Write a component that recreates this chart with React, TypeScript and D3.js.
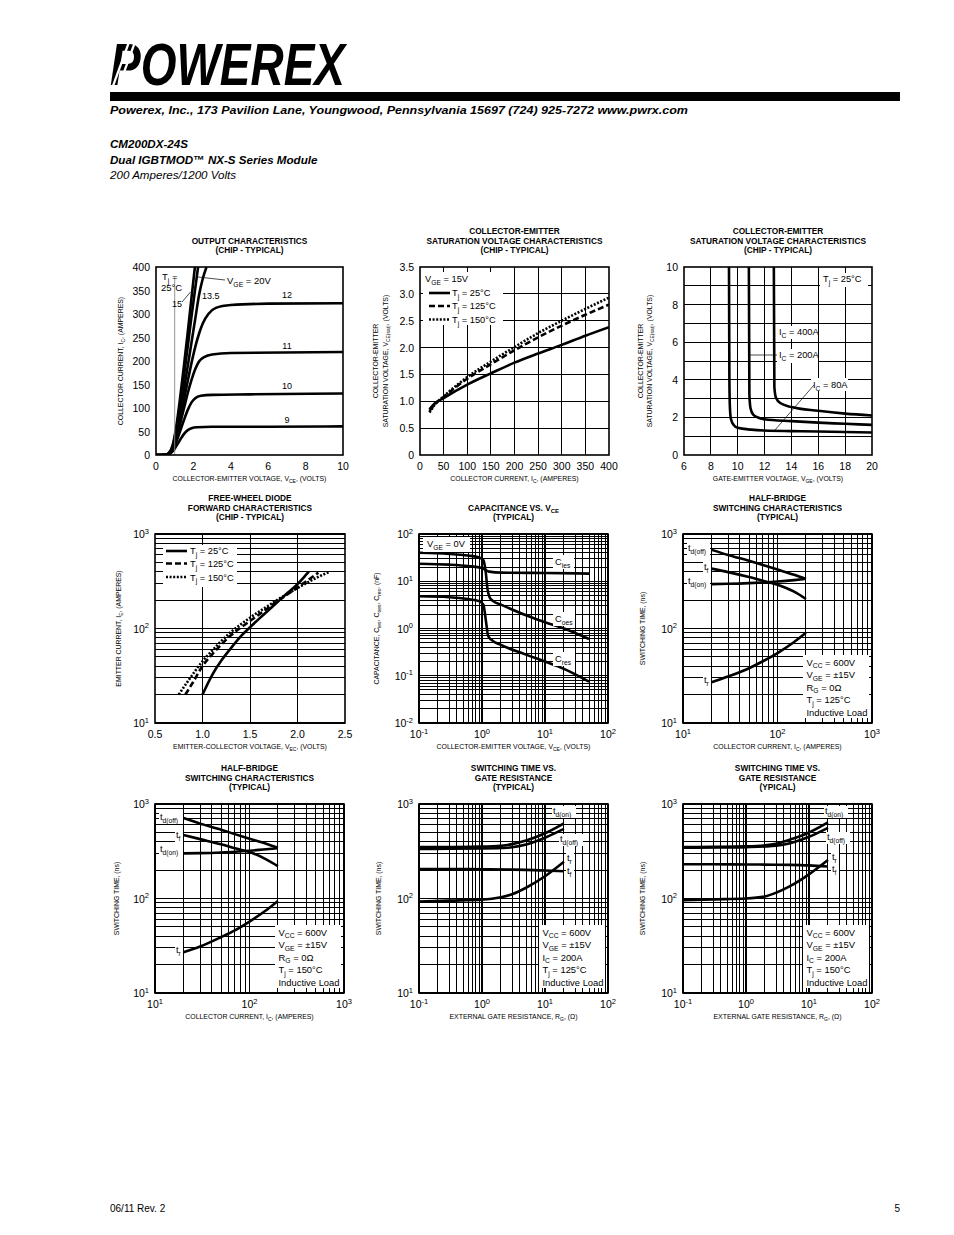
import React from "react";
import * as d3 from "d3";

type Pt = [number, number];

// ---------- Chart 1: Output characteristics (VCE [V], IC [A]) ----------
const outVge9: Pt[] = [[0,0],[0.5,0.5],[0.7,2],[0.9,8],[1.1,20],[1.3,33],[1.5,45],[1.7,53],[1.9,57],[2.2,59],[3,60],[6,60],[10,61]];
const outVge10: Pt[] = [[0,0],[0.5,0.5],[0.7,3],[0.9,12],[1.1,30],[1.3,52],[1.5,75],[1.7,96],[1.9,112],[2.1,121],[2.4,126],[3,128],[5,129],[10,131]];
const outVge11: Pt[] = [[0,0],[0.5,0.5],[0.7,3],[0.9,14],[1.1,38],[1.3,68],[1.5,100],[1.7,132],[1.9,160],[2.1,183],[2.3,199],[2.6,209],[3,214],[4,217],[10,219]];
const outVge12: Pt[] = [[0,0],[0.5,0.5],[0.7,3],[0.9,15],[1.1,42],[1.3,78],[1.5,118],[1.7,158],[1.9,196],[2.1,230],[2.3,258],[2.5,280],[2.8,300],[3.2,313],[4,319],[6,322],[10,323]];
const outVge135: Pt[] = [[0,0],[0.5,0.5],[0.7,4],[0.9,18],[1.1,48],[1.3,92],[1.5,140],[1.7,190],[1.9,240],[2.1,290],[2.3,340],[2.5,375],[2.7,400]];
const outVge15: Pt[] = [[0,0],[0.5,0.5],[0.7,4],[0.9,20],[1.1,58],[1.3,110],[1.5,170],[1.7,232],[1.9,295],[2.1,355],[2.25,400]];
const outVge20: Pt[] = [[0,0],[0.5,0.5],[0.7,5],[0.9,22],[1.1,65],[1.3,125],[1.5,192],[1.7,262],[1.9,335],[2.08,400]];
const outVceTicks = [0, 2, 4, 6, 8, 10];
const outIcTicks = [0, 50, 100, 150, 200, 250, 300, 350, 400];

// ---------- Chart 2: VCE(sat) vs IC ----------
const satTj25: Pt[] = [[20,0.85],[30,0.95],[50,1.06],[100,1.31],[150,1.52],[200,1.72],[250,1.89],[300,2.05],[350,2.22],[400,2.38]];
const satTj125: Pt[] = [[20,0.82],[30,0.93],[50,1.08],[100,1.42],[150,1.69],[200,1.95],[250,2.19],[300,2.41],[350,2.61],[400,2.8]];
const satTj150: Pt[] = [[20,0.79],[30,0.92],[50,1.09],[100,1.45],[150,1.74],[200,2.01],[250,2.27],[300,2.5],[350,2.72],[400,2.93]];
const satIcTicks = [0, 50, 100, 150, 200, 250, 300, 350, 400];
const satVTicks = ["0", "0.5", "1.0", "1.5", "2.0", "2.5", "3.0", "3.5"];

// ---------- Chart 3: VCE(sat) vs VGE ----------
const gateIc80: Pt[] = [[9.35,10],[9.38,4],[9.42,2.5],[9.5,1.9],[9.7,1.6],[10,1.45],[11,1.35],[12,1.3],[14,1.27],[16,1.25],[20,1.2]];
const gateIc200: Pt[] = [[10.83,10],[10.87,3.2],[10.95,2.5],[11.15,2.15],[11.6,1.97],[12,1.9],[14,1.8],[16,1.72],[18,1.66],[20,1.6]];
const gateIc400: Pt[] = [[12.69,10],[12.73,3.6],[12.85,3.05],[13.2,2.75],[14,2.55],[16,2.35],[18,2.2],[20,2.1]];
const gateVgeTicks = [6, 8, 10, 12, 14, 16, 18, 20];
const gateVceTicks = [0, 2, 4, 6, 8, 10];

// ---------- Chart 4: Free-wheel diode ----------
const diodeTj25: Pt[] = [[1.0,20],[1.1,32],[1.2,46],[1.3,62],[1.4,82],[1.5,103],[1.6,128],[1.7,158],[1.8,195],[1.9,240],[2.0,295],[2.1,380],[2.12,400]];
const diodeTj125: Pt[] = [[0.82,20],[0.9,27],[1.0,40],[1.1,53],[1.2,68],[1.3,85],[1.4,102],[1.5,120],[1.6,142],[1.7,168],[1.8,198],[1.9,232],[2.0,272],[2.1,320],[2.22,390]];
const diodeTj150: Pt[] = [[0.75,20],[0.85,28],[1.0,45],[1.1,58],[1.2,74],[1.3,92],[1.4,110],[1.5,130],[1.6,152],[1.7,176],[1.8,205],[1.9,235],[2.0,268],[2.1,305],[2.2,345],[2.33,395]];
const diodeVTicks = ["0.5", "1.0", "1.5", "2.0", "2.5"];
const diodeIExps = [1, 2, 3];

// ---------- Chart 5: Capacitance ----------
const capCies: Pt[] = [[0.1,23.5],[0.3,22.5],[0.6,21],[1.0,19],[1.3,16],[2,15.2],[10,15],[50,14.5]];
const capCoes: Pt[] = [[0.1,40],[0.3,38],[0.6,35],[0.9,32],[1.05,28],[1.15,15],[1.22,7],[1.32,4.6],[1.5,3.8],[2,3.2],[5,1.9],[10,1.35],[20,1.0],[50,0.6]];
const capCres: Pt[] = [[0.1,4.8],[0.3,4.6],[0.6,4.2],[0.9,3.8],[1.05,3.2],[1.15,1.5],[1.25,0.7],[1.4,0.58],[2,0.45],[5,0.28],[10,0.2],[20,0.14],[50,0.075]];
const capVExps = [-1, 0, 1, 2];
const capCExps = [-2, -1, 0, 1, 2];

// ---------- Chart 6: Switching vs IC, Tj=125 ----------
const sw125Tdoff: Pt[] = [[20,680],[30,600],[50,520],[70,470],[100,420],[150,370],[200,335]];
const sw125Tf: Pt[] = [[20,430],[30,395],[50,350],[70,320],[100,290],[150,245],[200,205]];
const sw125Tdon: Pt[] = [[20,295],[30,297],[50,302],[70,307],[100,314],[150,325],[200,335]];
const sw125Tr: Pt[] = [[20,27],[30,31],[50,38],[70,45],[100,55],[150,72],[200,90]];

// ---------- Chart 7: Switching vs IC, Tj=150 ----------
const sw150Tdoff: Pt[] = [[20,710],[30,620],[50,535],[70,480],[100,430],[150,380],[200,345]];
const sw150Tf: Pt[] = [[20,470],[30,425],[50,375],[70,340],[100,310],[150,260],[200,220]];
const sw150Tdon: Pt[] = [[20,300],[30,302],[50,307],[70,312],[100,320],[150,332],[200,340]];
const sw150Tr: Pt[] = [[20,27],[30,31],[50,39],[70,46],[100,57],[150,75],[200,94]];
const swIcExps = [1, 2, 3];
const swTExps = [1, 2, 3];

// ---------- Chart 8: Switching vs RG, Tj=125 ----------
const rg125Tdon: Pt[] = [[0.1,350],[0.3,351],[1,354],[2,362],[3,376],[5,410],[10,490],[20,625]];
const rg125Tdoff: Pt[] = [[0.1,335],[0.3,336],[1,338],[2,342],[3,348],[5,372],[10,440],[20,545]];
const rg125Tr: Pt[] = [[0.1,93],[0.3,95],[1,97],[2,103],[3,111],[5,130],[10,172],[20,245]];
const rg125Tf: Pt[] = [[0.1,205],[0.3,205],[1,204],[3,202],[5,201],[10,198],[20,194]];

// ---------- Chart 9: Switching vs RG, Tj=150 ----------
const rg150Tdon: Pt[] = [[0.1,350],[0.3,352],[1,356],[2,365],[3,380],[5,420],[10,500],[20,640]];
const rg150Tdoff: Pt[] = [[0.1,345],[0.3,346],[1,350],[2,355],[3,362],[5,385],[10,450],[20,560]];
const rg150Tr: Pt[] = [[0.1,96],[0.3,98],[1,100],[2,105],[3,115],[5,135],[10,180],[20,255]];
const rg150Tf: Pt[] = [[0.1,230],[0.3,230],[1,229],[3,228],[5,227],[10,224],[20,218]];
const swRgExps = [-1, 0, 1, 2];

const FONT = "'Liberation Sans', Arial, Helvetica, sans-serif";

interface Tick { v: number; t: string; sup?: string }
interface Series { data: Pt[]; dash?: string; w?: number }
type Sc = (v: number) => number;
interface PanelCfg {
  x0: number; y0: number; w: number; h: number;
  xLog?: boolean; yLog?: boolean;
  xDom: [number, number]; yDom: [number, number];
  xGrid: number[]; yGrid: number[];
  xTicks: Tick[]; yTicks: Tick[];
  series: Series[];
  title: string[];
  xTitle: string;
  yTitle: string[];
  yTitleOff: number[];
  extra?: (sx: Sc, sy: Sc) => React.ReactNode;
}

function rich(s: string, fs: number): React.ReactNode[] {
  const out: React.ReactNode[] = [];
  const re = /([_^])\{([^}]*)\}/g;
  let last = 0; let m: RegExpExecArray | null; let shift = 0; let k = 0;
  while ((m = re.exec(s))) {
    if (m.index > last) { out.push(<tspan key={k++} dy={-shift}>{s.slice(last, m.index)}</tspan>); shift = 0; }
    const d = m[1] === "_" ? fs * 0.3 : -fs * 0.42;
    out.push(<tspan key={k++} dy={d - shift} fontSize={fs * 0.72}>{m[2]}</tspan>);
    shift = d; last = re.lastIndex;
  }
  if (last < s.length) out.push(<tspan key={k++} dy={-shift}>{s.slice(last)}</tspan>);
  return out;
}

function T({ x, y, s, fs = 9, anchor = "start", weight = "normal" }: { x: number; y: number; s: string; fs?: number; anchor?: string; weight?: string }) {
  return <text x={x} y={y} fontSize={fs} textAnchor={anchor as any} fontWeight={weight}>{rich(s, fs)}</text>;
}

function WB({ x, y, w, h }: { x: number; y: number; w: number; h: number }) {
  return <rect x={x} y={y} width={w} height={h} fill="#fff" />;
}

function logGrid(lo: number, hi: number): number[] {
  const out: number[] = [];
  for (let e = lo; e < hi; e++) for (let m = 1; m < 10; m++) out.push(m * Math.pow(10, e));
  out.push(Math.pow(10, hi));
  return out;
}
const expTicks = (exps: number[]): Tick[] => exps.map(e => ({ v: Math.pow(10, e), t: "10", sup: String(e) }));
const numTicks = (vals: number[]): Tick[] => vals.map(v => ({ v, t: String(v) }));
const strTicks = (vals: string[]): Tick[] => vals.map(v => ({ v: +v, t: v }));

function Panel({ cfg, id }: { cfg: PanelCfg; id: string }) {
  const sx: any = (cfg.xLog ? d3.scaleLog() : d3.scaleLinear()).domain(cfg.xDom).range([cfg.x0, cfg.x0 + cfg.w]);
  const sy: any = (cfg.yLog ? d3.scaleLog() : d3.scaleLinear()).domain(cfg.yDom).range([cfg.y0 + cfg.h, cfg.y0]);
  const line = d3.line<Pt>().x(d => sx(d[0])).y(d => sy(d[1])).curve(d3.curveMonotoneX);
  const major = (v: number, log?: boolean) => log && Math.abs(Math.log10(v) - Math.round(Math.log10(v))) < 1e-6;
  const cx = cfg.x0 + cfg.w / 2, cy = cfg.y0 + cfg.h / 2;
  const bottom = cfg.y0 + cfg.h;
  const tickText = (tk: Tick, x: number, y: number, anchor: string, key: number) => (
    <text key={key} x={x} y={y} textAnchor={anchor as any} fontSize={10.5}>
      {tk.t}{tk.sup !== undefined && <tspan dy={-4.5} fontSize={7.5}>{tk.sup}</tspan>}
    </text>
  );
  return (
    <g>
      <defs>
        <clipPath id={id}><rect x={cfg.x0} y={cfg.y0} width={cfg.w} height={cfg.h} /></clipPath>
      </defs>
      {cfg.title.map((t, i) => (
        <T key={i} x={cx} y={cfg.y0 - 14 - (cfg.title.length - 1 - i) * 9.5} s={t} fs={8.3} anchor="middle" weight="bold" />
      ))}
      <g stroke="#000" shapeRendering="crispEdges">
        {cfg.xGrid.map((v, i) => <line key={"gx" + i} x1={sx(v)} x2={sx(v)} y1={cfg.y0} y2={bottom} strokeWidth={major(v, cfg.xLog) ? 1.4 : 1} />)}
        {cfg.yGrid.map((v, i) => <line key={"gy" + i} y1={sy(v)} y2={sy(v)} x1={cfg.x0} x2={cfg.x0 + cfg.w} strokeWidth={major(v, cfg.yLog) ? 1.4 : 1} />)}
      </g>
      <g clipPath={`url(#${id})`} fill="none" stroke="#000" strokeLinejoin="round">
        {cfg.series.map((s, i) => (
          <path key={i} d={line(s.data) || ""} strokeWidth={s.w ?? 2.6} strokeDasharray={s.dash} />
        ))}
      </g>
      {cfg.extra && cfg.extra(sx, sy)}
      <rect x={cfg.x0} y={cfg.y0} width={cfg.w} height={cfg.h} fill="none" stroke="#000" strokeWidth={1.6} />
      {cfg.xTicks.map((tk, i) => tickText(tk, sx(tk.v), bottom + 15, "middle", i))}
      {cfg.yTicks.map((tk, i) => tickText(tk, cfg.x0 - 6, sy(tk.v) + 4, "end", i))}
      <T x={cx} y={bottom + 26} s={cfg.xTitle} fs={6.9} anchor="middle" />
      {cfg.yTitle.map((t, i) => (
        <g key={i} transform={`translate(${cfg.x0 - cfg.yTitleOff[i]},${cy}) rotate(-90)`}>
          <T x={0} y={0} s={t} fs={6.9} anchor="middle" />
        </g>
      ))}
    </g>
  );
}

const DASH = "6,3";
const DOT = "2,1.6";

export default function App() {
  const C = [156, 420, 684];
  const R = [267, 534, 804];
  const W = 188, H = 189;
  const swBox = (x: number, y: number, lines: string[]) => (
    <g>
      <WB x={x} y={y} w={66} h={63} />
      {lines.map((l, i) => <T key={i} x={x + 3.5} y={y + 10.5 + i * 12.5} s={l} fs={9.4} />)}
    </g>
  );

  const panels: PanelCfg[] = [
    {
      x0: C[0], y0: R[0], w: W - 1, h: H - 1, xDom: [0, 10], yDom: [0, 400],
      xGrid: [], yGrid: [], xTicks: numTicks(outVceTicks), yTicks: numTicks(outIcTicks),
      series: [outVge9, outVge10, outVge11, outVge12, outVge135, outVge15, outVge20].map(d => ({ data: d })),
      title: ["OUTPUT CHARACTERISTICS", "(CHIP - TYPICAL)"],
      xTitle: "COLLECTOR-EMITTER VOLTAGE, V_{CE}, (VOLTS)",
      yTitle: ["COLLECTOR CURRENT, I_{C}, (AMPERES)"], yTitleOff: [33],
      extra: (sx, sy) => (
        <g>
          <line x1={sx(1)} x2={sx(1)} y1={sy(378)} y2={sy(0)} stroke="#888" strokeWidth={0.9} />
          <T x={162} y={280} s="T_{j} =" fs={9.5} />
          <T x={161} y={291} s="25°C" fs={9.5} />
          <line x1={225} y1={280} x2={198} y2={277} stroke="#000" strokeWidth={0.7} />
          <T x={227} y={284} s="V_{GE} = 20V" fs={9.5} />
          <line x1={182} y1={302} x2={190.5} y2={292} stroke="#000" strokeWidth={0.7} />
          <T x={172} y={307} s="15" fs={9} />
          <T x={202} y={299} s="13.5" fs={9} />
          <T x={287} y={298} s="12" fs={9} anchor="middle" />
          <T x={287} y={349} s="11" fs={9} anchor="middle" />
          <T x={287} y={389} s="10" fs={9} anchor="middle" />
          <T x={287} y={423} s="9" fs={9} anchor="middle" />
        </g>
      ),
    },
    {
      x0: C[1], y0: R[0], w: W + 1, h: H - 1, xDom: [0, 400], yDom: [0, 3.5],
      xGrid: d3.range(50, 400, 50), yGrid: d3.range(0.5, 3.5, 0.5),
      xTicks: numTicks(satIcTicks), yTicks: strTicks(satVTicks),
      series: [{ data: satTj25 }, { data: satTj125, dash: DASH }, { data: satTj150, dash: DOT }],
      title: ["COLLECTOR-EMITTER", "SATURATION VOLTAGE CHARACTERISTICS", "(CHIP - TYPICAL)"],
      xTitle: "COLLECTOR CURRENT, I_{C}, (AMPERES)",
      yTitle: ["COLLECTOR-EMITTER", "SATURATION VOLTAGE, V_{CE(sat)}, (VOLTS)"], yTitleOff: [42, 32],
      extra: () => (
        <g>
          <WB x={423} y={272} w={80} h={53} />
          <T x={425} y={282} s="V_{GE} = 15V" fs={9.3} />
          <line x1={429} x2={450} y1={293} y2={293} stroke="#000" strokeWidth={2.6} />
          <T x={452} y={296} s="T_{j} = 25°C" fs={9.3} />
          <line x1={429} x2={450} y1={306} y2={306} stroke="#000" strokeWidth={2.6} strokeDasharray={DASH} />
          <T x={452} y={309} s="T_{j} = 125°C" fs={9.3} />
          <line x1={429} x2={450} y1={319.5} y2={319.5} stroke="#000" strokeWidth={2.6} strokeDasharray={DOT} />
          <T x={452} y={323} s="T_{j} = 150°C" fs={9.3} />
        </g>
      ),
    },
    {
      x0: C[2], y0: R[0], w: W, h: H - 1, xDom: [6, 20], yDom: [0, 10],
      xGrid: d3.range(8, 20, 2), yGrid: d3.range(1, 10, 1),
      xTicks: numTicks(gateVgeTicks), yTicks: numTicks(gateVceTicks),
      series: [{ data: gateIc80 }, { data: gateIc200 }, { data: gateIc400 }],
      title: ["COLLECTOR-EMITTER", "SATURATION VOLTAGE CHARACTERISTICS", "(CHIP - TYPICAL)"],
      xTitle: "GATE-EMITTER VOLTAGE, V_{GE}, (VOLTS)",
      yTitle: ["COLLECTOR-EMITTER", "SATURATION VOLTAGE, V_{CE(sat)}, (VOLTS)"], yTitleOff: [41, 32],
      extra: () => (
        <g>
          <WB x={820} y={273} w={48} h={14} />
          <T x={823} y={282} s="T_{j} = 25°C" fs={9.3} />
          <WB x={777} y={326} w={40} h={13} />
          <T x={779} y={335} s="I_{C} = 400A" fs={9.3} />
          <WB x={777} y={349} w={41} h={14} />
          <line x1={750} x2={777} y1={355} y2={355} stroke="#000" strokeWidth={0.7} />
          <T x={779} y={358} s="I_{C} = 200A" fs={9.3} />
          <WB x={811} y={378} w={37} h={13} />
          <line x1={814} y1={385} x2={775} y2={430} stroke="#000" strokeWidth={0.7} />
          <T x={813} y={388} s="I_{C} = 80A" fs={9.3} />
        </g>
      ),
    },
    {
      x0: C[0] - 1, y0: R[1], w: W + 2, h: H, xDom: [0.5, 2.5], yDom: [10, 1000], yLog: true,
      xGrid: [1.0, 1.5, 2.0], yGrid: logGrid(1, 3),
      xTicks: strTicks(diodeVTicks), yTicks: expTicks(diodeIExps),
      series: [{ data: diodeTj25 }, { data: diodeTj125, dash: DASH }, { data: diodeTj150, dash: DOT }],
      title: ["FREE-WHEEL DIODE", "FORWARD CHARACTERISTICS", "(CHIP - TYPICAL)"],
      xTitle: "EMITTER-COLLECTOR VOLTAGE, V_{EC}, (VOLTS)",
      yTitle: ["EMITTER CURRENT, I_{E}, (AMPERES)"], yTitleOff: [34],
      extra: () => (
        <g>
          <WB x={163} y={545} w={74} h={42} />
          <line x1={166} x2={187} y1={551} y2={551} stroke="#000" strokeWidth={2.6} />
          <T x={190} y={554} s="T_{j} = 25°C" fs={9.3} />
          <line x1={166} x2={187} y1={563.5} y2={563.5} stroke="#000" strokeWidth={2.6} strokeDasharray={DASH} />
          <T x={190} y={567} s="T_{j} = 125°C" fs={9.3} />
          <line x1={166} x2={187} y1={577} y2={577} stroke="#000" strokeWidth={2.6} strokeDasharray={DOT} />
          <T x={190} y={580.5} s="T_{j} = 150°C" fs={9.3} />
        </g>
      ),
    },
    {
      x0: C[1] - 1, y0: R[1], w: W + 1, h: H, xDom: [0.1, 100], yDom: [0.01, 100], xLog: true, yLog: true,
      xGrid: logGrid(-1, 2), yGrid: logGrid(-2, 2),
      xTicks: expTicks(capVExps), yTicks: expTicks(capCExps),
      series: [{ data: capCies }, { data: capCoes }, { data: capCres }],
      title: ["CAPACITANCE VS. V_{CE}", "(TYPICAL)"],
      xTitle: "COLLECTOR-EMITTER VOLTAGE, V_{CE}, (VOLTS)",
      yTitle: ["CAPACITANCE, C_{ies}, C_{oes}, C_{res}, (nF)"], yTitleOff: [40],
      extra: () => (
        <g>
          <WB x={423} y={537} w={47} h={15} />
          <T x={427} y={547} s="V_{GE} = 0V" fs={9.3} />
          <WB x={553} y={555} w={21} h={14} />
          <T x={555} y={565} s="C_{ies}" fs={9.3} />
          <WB x={553} y={612} w={22} h={14} />
          <T x={555} y={622} s="C_{oes}" fs={9.3} />
          <WB x={553} y={652} w={22} h={14} />
          <T x={555} y={662} s="C_{res}" fs={9.3} />
        </g>
      ),
    },
    {
      x0: C[2] - 1, y0: R[1], w: W + 1, h: H, xDom: [10, 1000], yDom: [10, 1000], xLog: true, yLog: true,
      xGrid: logGrid(1, 3), yGrid: logGrid(1, 3),
      xTicks: expTicks(swIcExps), yTicks: expTicks(swTExps),
      series: [{ data: sw125Tdoff }, { data: sw125Tf }, { data: sw125Tdon }, { data: sw125Tr }],
      title: ["HALF-BRIDGE", "SWITCHING CHARACTERISTICS", "(TYPICAL)"],
      xTitle: "COLLECTOR CURRENT, I_{C}, (AMPERES)",
      yTitle: ["SWITCHING TIME, (ns)"], yTitleOff: [38],
      extra: () => (
        <g>
          <WB x={687} y={543} w={23} h={12} />
          <T x={688} y={551} s="t_{d(off)}" fs={9.3} />
          <WB x={703} y={562} w={8} h={12} />
          <T x={704} y={570} s="t_{f}" fs={9.3} />
          <WB x={687} y={576} w={23} h={12} />
          <T x={688} y={584} s="t_{d(on)}" fs={9.3} />
          <WB x={703} y={675} w={8} h={12} />
          <T x={704} y={683} s="t_{r}" fs={9.3} />
          {swBox(803, 655, ["V_{CC} = 600V", "V_{GE} = ±15V", "R_{G} = 0Ω", "T_{j} = 125°C", "Inductive Load"])}
        </g>
      ),
    },
    {
      x0: C[0] - 1, y0: R[2], w: W + 1, h: H, xDom: [10, 1000], yDom: [10, 1000], xLog: true, yLog: true,
      xGrid: logGrid(1, 3), yGrid: logGrid(1, 3),
      xTicks: expTicks(swIcExps), yTicks: expTicks(swTExps),
      series: [{ data: sw150Tdoff }, { data: sw150Tf }, { data: sw150Tdon }, { data: sw150Tr }],
      title: ["HALF-BRIDGE", "SWITCHING CHARACTERISTICS", "(TYPICAL)"],
      xTitle: "COLLECTOR CURRENT, I_{C}, (AMPERES)",
      yTitle: ["SWITCHING TIME, (ns)"], yTitleOff: [36],
      extra: () => (
        <g>
          <WB x={159} y={812} w={24} h={12} />
          <T x={160} y={820} s="t_{d(off)}" fs={9.3} />
          <WB x={175} y={830} w={8} h={12} />
          <T x={176} y={838} s="t_{f}" fs={9.3} />
          <WB x={159} y={844} w={24} h={12} />
          <T x={160} y={852} s="t_{d(on)}" fs={9.3} />
          <WB x={175} y={945} w={8} h={12} />
          <T x={176} y={953} s="t_{r}" fs={9.3} />
          {swBox(275, 925, ["V_{CC} = 600V", "V_{GE} = ±15V", "R_{G} = 0Ω", "T_{j} = 150°C", "Inductive Load"])}
        </g>
      ),
    },
    {
      x0: C[1] - 1, y0: R[2], w: W + 1, h: H, xDom: [0.1, 100], yDom: [10, 1000], xLog: true, yLog: true,
      xGrid: logGrid(-1, 2), yGrid: logGrid(1, 3),
      xTicks: expTicks(swRgExps), yTicks: expTicks(swTExps),
      series: [{ data: rg125Tdon }, { data: rg125Tdoff }, { data: rg125Tr }, { data: rg125Tf }],
      title: ["SWITCHING TIME VS.", "GATE RESISTANCE", "(TYPICAL)"],
      xTitle: "EXTERNAL GATE RESISTANCE, R_{G}, (Ω)",
      yTitle: ["SWITCHING TIME, (ns)"], yTitleOff: [38],
      extra: () => (
        <g>
          <WB x={552} y={806} w={24} h={12} />
          <T x={553} y={814} s="t_{d(on)}" fs={9.3} />
          <WB x={559} y={834} w={24} h={12} />
          <T x={560} y={842} s="t_{d(off)}" fs={9.3} />
          <WB x={566} y={853} w={8} h={11} />
          <T x={567} y={861} s="t_{r}" fs={9.3} />
          <WB x={566} y={866} w={8} h={11} />
          <T x={567} y={874} s="t_{f}" fs={9.3} />
          {swBox(539, 925, ["V_{CC} = 600V", "V_{GE} = ±15V", "I_{C} = 200A", "T_{j} = 125°C", "Inductive Load"])}
        </g>
      ),
    },
    {
      x0: C[2] - 1, y0: R[2], w: W + 1, h: H, xDom: [0.1, 100], yDom: [10, 1000], xLog: true, yLog: true,
      xGrid: logGrid(-1, 2), yGrid: logGrid(1, 3),
      xTicks: expTicks(swRgExps), yTicks: expTicks(swTExps),
      series: [{ data: rg150Tdon }, { data: rg150Tdoff }, { data: rg150Tr }, { data: rg150Tf }],
      title: ["SWITCHING TIME VS.", "GATE RESISTANCE", "(YPICAL)"],
      xTitle: "EXTERNAL GATE RESISTANCE, R_{G}, (Ω)",
      yTitle: ["SWITCHING TIME, (ns)"], yTitleOff: [38],
      extra: () => (
        <g>
          <WB x={824} y={806} w={24} h={12} />
          <T x={825} y={814} s="t_{d(on)}" fs={9.3} />
          <WB x={826} y={832} w={24} h={12} />
          <T x={827} y={840} s="t_{d(off)}" fs={9.3} />
          <WB x={831} y={852} w={8} h={11} />
          <T x={832} y={860} s="t_{r}" fs={9.3} />
          <WB x={831} y={864} w={8} h={11} />
          <T x={832} y={872} s="t_{f}" fs={9.3} />
          {swBox(803, 925, ["V_{CC} = 600V", "V_{GE} = ±15V", "I_{C} = 200A", "T_{j} = 150°C", "Inductive Load"])}
        </g>
      ),
    },
  ];

  return (
    <svg width={954} height={1235} style={{ position: "absolute", left: 0, top: 0, background: "#fff" }} fontFamily={FONT}>
      <rect width={954} height={1235} fill="#fff" />
      {/* header */}
      <text x={110} y={85} fontSize={59} fontWeight="bold" fontStyle="italic" fontFamily="'Liberation Sans', Arial, sans-serif" textLength={235} lengthAdjust="spacingAndGlyphs">POWEREX</text>
      <g stroke="#fff" strokeWidth={2.2}>
        <line x1={113} y1={86} x2={129} y2={42} />
        <line x1={119} y1={86} x2={135} y2={42} />
      </g>
      <rect x={110} y={92} width={790} height={9} fill="#000" />
      <text x={110} y={113.5} fontSize={11.6} fontWeight="bold" fontStyle="italic" textLength={578} lengthAdjust="spacingAndGlyphs">Powerex, Inc., 173 Pavilion Lane, Youngwood, Pennsylvania  15697   (724) 925-7272  www.pwrx.com</text>
      <text x={110} y={148} fontSize={11.6} fontWeight="bold" fontStyle="italic">CM200DX-24S</text>
      <text x={110} y={164} fontSize={11.6} fontWeight="bold" fontStyle="italic">Dual IGBTMOD™ NX-S Series Module</text>
      <text x={110} y={179} fontSize={11.6} fontStyle="italic">200 Amperes/1200 Volts</text>
      {panels.map((p, i) => <Panel key={i} cfg={p} id={"clip" + i} />)}
      {/* footer */}
      <text x={110} y={1212} fontSize={10}>06/11 Rev. 2</text>
      <text x={900} y={1212} fontSize={10} textAnchor="end">5</text>
    </svg>
  );
}
